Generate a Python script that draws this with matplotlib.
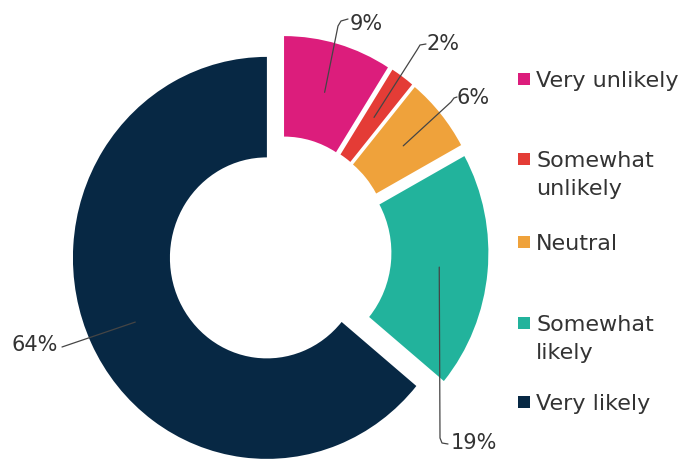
import matplotlib
matplotlib.use("Agg")
import matplotlib.pyplot as plt
import numpy as np
from matplotlib.patches import Rectangle

# ---- data ----
categories = ["Very unlikely", "Somewhat unlikely", "Neutral", "Somewhat likely", "Very likely"]
legend_lines = [["Very unlikely"], ["Somewhat", "unlikely"], ["Neutral"], ["Somewhat", "likely"], ["Very likely"]]
values = [9, 2, 6, 19, 64]
value_labels = ["9%", "2%", "6%", "19%", "64%"]
colors = ["#DC1D7C", "#E43C36", "#EFA23B", "#22B39C", "#072844"]

# ---- layout (pixels, y measured from top) ----
W, H = 686, 463
SX = 0.965            # reference image is slightly compressed horizontally
FONT = ["DejaVu Sans"]
TXT = "#333333"
LINE = "#454545"
R = 201
CX, CY = 280, 251.5
EXPLODE = 15
leader_paths = [
    [(338, 26), (341, 21), (348, 19)],
    [(417, 50), (420, 45), (426, 44)],
    [(451, 102), (454, 98), (457, 97)],
    [(440, 438), (442, 443), (448, 444)],
    [(62, 347)],
]
label_pos = [(350, 24, "left"), (427, 44, "left"), (457, 98, "left"), (451, 443, "left"), (58, 345, "right")]
legend_sq_y = [79, 159, 242, 323, 402]
legend_base_y = [87, 167, 250, 331, 410]
LEG_LINE_GAP = 28
FS = 15
FS_LEG = 16

def px(x):
    return x / SX

def py(y):
    return H - y

fig = plt.figure(figsize=(W / 100, H / 100), dpi=100)
ax = fig.add_axes([0, 0, 1, 1])
wedges, _ = ax.pie(values, colors=colors, startangle=90, counterclock=False,
                   radius=R, center=(px(CX), py(CY)), explode=[EXPLODE] * len(values),
                   wedgeprops=dict(width=0.5 * R, linewidth=0))
ax.set_xlim(0, px(W))
ax.set_ylim(0, H)
ax.set_aspect("auto")
ax.axis("off")

for w, path, (tx, ty, ha), lab in zip(wedges, leader_paths, label_pos, value_labels):
    th = np.deg2rad(0.5 * (w.theta1 + w.theta2))
    cx, cy = w.center
    a_x = cx + 0.75 * R * np.cos(th)
    a_y = cy + 0.75 * R * np.sin(th)
    xs = [a_x] + [px(p[0]) for p in path]
    ys = [a_y] + [py(p[1]) for p in path]
    ax.plot(xs, ys, color=LINE, lw=0.9, solid_capstyle="round", solid_joinstyle="round")
    ax.text(px(tx), py(ty), lab, ha=ha, va="center", fontsize=FS, color=TXT, family=FONT)

# legend
for c, lines, sy, by in zip(colors, legend_lines, legend_sq_y, legend_base_y):
    ax.add_patch(Rectangle((px(518), py(sy) - 6), px(12), 12, facecolor=c, edgecolor="none"))
    for i, t in enumerate(lines):
        ax.text(px(536), py(by + i * LEG_LINE_GAP), t, ha="left", va="baseline",
                fontsize=FS_LEG, color=TXT, family=FONT)

fig.savefig("out.png", dpi=100, facecolor="white")
